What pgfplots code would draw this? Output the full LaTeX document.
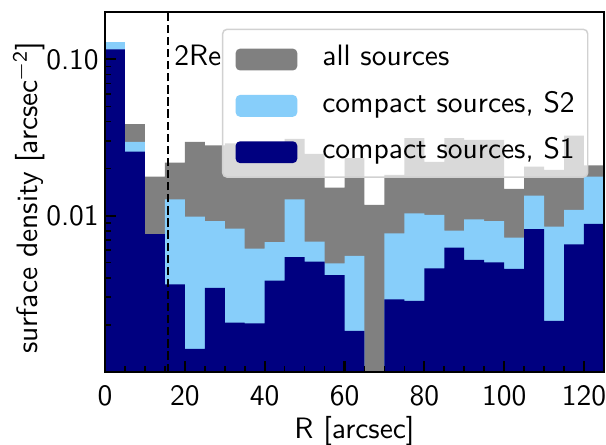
\documentclass[border=0pt]{standalone}
\usepackage{pgfplots}
\pgfplotsset{compat=1.18}
\usepackage{pgfplotstable}
\definecolor{allsrc}{HTML}{808080}
\definecolor{stwo}{HTML}{87CEFA}
\definecolor{sone}{HTML}{000080}

% surface density per 5'' bin, left bin edge in R (last row closes the interval)
\pgfplotstableread{
R    all      s2       s1
0    0.1288   0.1288   0.1161
5    0.0385   0.0297   0.02564
10   0.01774  0.00762  0.00762
15   0.02182  0.0127   0.00363
20   0.0296   0.00984  0.0014
25   0.0282   0.00923  0.00345
30   0.0290   0.00824  0.00206
35   0.0235   0.00614  0.00204
40   0.0270   0.00675  0.00384
45   0.0310   0.0127   0.00543
50   0.0248   0.00681  0.00507
55   0.0151   0.00495  0.00416
60   0.0233   0.00553  0.00183
65   0.0117   0.00001  0.00001
70   0.0182   0.0077   0.00291
75   0.0313   0.01034  0.00284
80   0.0221   0.0101   0.0046
85   0.0313   0.0080   0.00623
90   0.0305   0.00946  0.0052
95   0.0305   0.00923  0.00502
100  0.0148   0.00722  0.00455
105  0.0206   0.0134   0.0082
110  0.0196   0.0085   0.00212
115  0.0325   0.01086  0.00655
120  0.0210   0.01775  0.00884
125  0.0210   0.01775  0.00884
}\hist

\begin{document}
\begin{tikzpicture}[font=\sffamily]
\path[use as bounding box] (-35.6pt,-24.5pt) rectangle (169.8pt,126.0pt);
\begin{axis}[
    scale only axis,
    width=169.1pt, height=121.8pt,
    xmin=0, xmax=125,
    ymin=0.001, ymax=0.2,
    ymode=log, log origin y=infty,
    axis on top,
    xtick pos=bottom, ytick pos=left,
    tick align=inside,
    xtick={0,20,...,120},
    minor x tick num=3,
    ytick={0.01,0.1},
    yticklabels={0.01,0.10},
    minor ytick={0.002,0.003,0.004,0.005,0.006,0.007,0.008,0.009,
                 0.02,0.03,0.04,0.05,0.06,0.07,0.08,0.09},
    major tick length=3.6pt, minor tick length=2pt,
    major tick style={black, line width=0.7pt},
    minor tick style={black, line width=0.55pt},
    axis line style={line width=0.7pt},
    ticklabel style={font=\sffamily},
    /pgf/number format/assume math mode=true,
    xticklabel style={yshift=-1.2pt},
    yticklabel style={xshift=1.4pt},
    xlabel={R [arcsec]},
    ylabel={surface density [arcsec\textsuperscript{\textminus2}]},
    xlabel style={at={(axis description cs:0.5,-0.187)}, anchor=base},
    ylabel style={at={(axis description cs:-0.135,0.484)}, anchor=base},
    legend cell align=left,
    legend style={
        at={(axis description cs:0.969,0.955)}, anchor=north east,
        draw=black!18, line width=0.5pt, rounded corners=1.5pt,
        fill=white, fill opacity=0.7, draw opacity=1, text opacity=1,
        inner xsep=4.4pt, inner ysep=1.5pt,
        row sep=0pt, column sep=8.5pt,
        nodes={inner sep=0pt, text height=10.9pt, text depth=4.8pt},
    },
]

\addplot[ybar interval, fill=allsrc, draw=none,
    legend image code/.code={\fill[allsrc, fill opacity=1] (0pt,-4.6pt) rectangle (20.9pt,2.8pt);}]
    table[x=R, y=all] {\hist};
\addlegendentry{all sources}

\addplot[ybar interval, fill=stwo, draw=none,
    legend image code/.code={\fill[stwo, fill opacity=1] (0pt,-4.6pt) rectangle (20.9pt,2.8pt);}]
    table[x=R, y=s2] {\hist};
\addlegendentry{compact sources, S2}

\addplot[ybar interval, fill=sone, draw=none,
    legend image code/.code={\fill[sone, fill opacity=1] (0pt,-4.6pt) rectangle (20.9pt,2.8pt);}]
    table[x=R, y=s1] {\hist};
\addlegendentry{compact sources, S1}

% 2 Re marker
\addplot[forget plot, black, line width=0.65pt, dash pattern=on 2.8pt off 1.3pt]
    coordinates {(15.8,0.001) (15.8,0.2)};
\node[anchor=base west, inner sep=0pt] at (axis cs:17.2,0.0908) {2Re};

\end{axis}
\end{tikzpicture}
\end{document}
